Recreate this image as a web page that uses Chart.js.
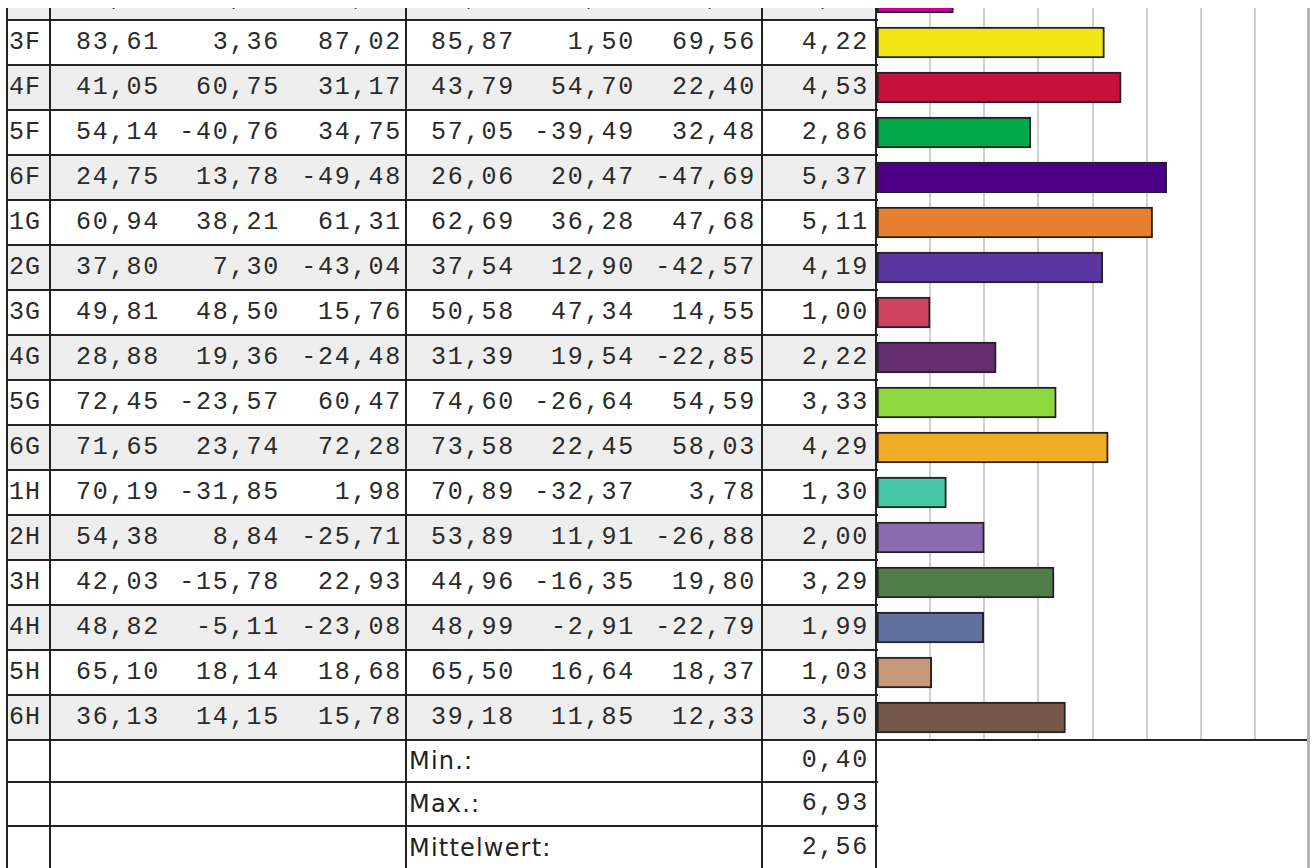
<!DOCTYPE html>
<html lang="de">
<head>
    <meta charset="UTF-8">
    <title>Farbmessung</title>
    <script src="https://cdn.jsdelivr.net/npm/chart.js"></script>
    <style>
        body {
            margin: 0;
            background: #fff;
            width: 1313px;
            height: 868px;
            overflow: hidden;
        }
        #clip {
            position: absolute;
            top: 8px;
            left: 0;
            width: 1313px;
            height: 860px;
            overflow: hidden;
        }
        #sheet {
            position: absolute;
            top: -8px;
            left: 0;
            width: 1313px;
            height: 868px;
        }
        .row { position: absolute; left: 7px; width: 869px; }
        .gray { background: #eeeeee; }
        .num {
            position: absolute;
            width: 200px;
            text-align: right;
            font-family: "Liberation Mono", monospace;
            font-size: 25px;
            letter-spacing: 1.8px;
            color: #2a2a2a;
            white-space: pre;
        }
        .lab {
            position: absolute;
            left: 9px;
            font-family: "Liberation Mono", monospace;
            font-size: 25px;
            letter-spacing: 1px;
            color: #2a2a2a;
        }
        .txt {
            position: absolute;
            left: 409px;
            font-family: "DejaVu Sans", sans-serif;
            font-size: 24px;
            letter-spacing: 1.2px;
            color: #222;
        }
        .hl, .vl { position: absolute; background: #222; z-index: 5; }
        #bars { position: absolute; left: 876px; top: -25px; z-index: 2; }
    </style>
</head>
<body>
<div id="clip"><div id="sheet">
    <canvas id="bars" width="433" height="765"></canvas>
</div></div>

<script>
    // rows, the first one is cut off at the top of the picture
    const rowLabels = ['2F', '3F', '4F', '5F', '6F', '1G', '2G', '3G', '4G', '5G', '6G', '1H', '2H', '3H', '4H', '5H', '6H'];

    // measured values (first group)
    const refL = [null, 83.61, 41.05, 54.14, 24.75, 60.94, 37.80, 49.81, 28.88, 72.45, 71.65, 70.19, 54.38, 42.03, 48.82, 65.10, 36.13];
    const refA = [null, 3.36, 60.75, -40.76, 13.78, 38.21, 7.30, 48.50, 19.36, -23.57, 23.74, -31.85, 8.84, -15.78, -5.11, 18.14, 14.15];
    const refB = [null, 87.02, 31.17, 34.75, -49.48, 61.31, -43.04, 15.76, -24.48, 60.47, 72.28, 1.98, -25.71, 22.93, -23.08, 18.68, 15.78];

    // second group
    const smpL = [null, 85.87, 43.79, 57.05, 26.06, 62.69, 37.54, 50.58, 31.39, 74.60, 73.58, 70.89, 53.89, 44.96, 48.99, 65.50, 39.18];
    const smpA = [null, 1.50, 54.70, -39.49, 20.47, 36.28, 12.90, 47.34, 19.54, -26.64, 22.45, -32.37, 11.91, -16.35, -2.91, 16.64, 11.85];
    const smpB = [null, 69.56, 22.40, 32.48, -47.69, 47.68, -42.57, 14.55, -22.85, 54.59, 58.03, 3.78, -26.88, 19.80, -22.79, 18.37, 12.33];

    // difference column, also the bar lengths
    const deltaE = [1.43, 4.22, 4.53, 2.86, 5.37, 5.11, 4.19, 1.00, 2.22, 3.33, 4.29, 1.30, 2.00, 3.29, 1.99, 1.03, 3.50];

    const barColors = ['#cc0099', '#f0e516', '#c8103c', '#00a84c', '#4b0087', '#e87f2e', '#5a36a0', '#cf4560',
        '#652d6f', '#8ed840', '#f0ac26', '#48c8a8', '#8a6ab0', '#507c4a', '#61709e', '#c9977a', '#765848'];

    const summaryLabels = ['Min.:', 'Max.:', 'Mittelwert:'];
    const summaryValues = [0.40, 6.93, 2.56];

    const sheet = document.getElementById('sheet');
    const ROW_TOP = -25, ROW_H = 45;

    function fmt(v) {
        if (v === null) return '  ,  ';
        return v.toFixed(2).replace('.', ',');
    }

    function addDiv(cls, css, text) {
        let d = document.createElement('div');
        d.className = cls;
        Object.assign(d.style, css);
        if (text !== undefined) d.textContent = text;
        sheet.appendChild(d);
        return d;
    }

    // right edges of the number columns (letter-spacing adds a bit after the last char)
    const numRight = [160, 280, 402, 515, 635, 756, 869];

    rowLabels.forEach((lab, i) => {
        let top = ROW_TOP + i * ROW_H;
        addDiv('row' + (i % 2 === 0 ? ' gray' : ''), { top: top + 'px', height: ROW_H + 'px' });
        let vals = [refL[i], refA[i], refB[i], smpL[i], smpA[i], smpB[i], deltaE[i]];
        vals.forEach((v, j) => {
            addDiv('num', { left: (numRight[j] - 200) + 'px', top: top + 'px', lineHeight: ROW_H + 'px' }, fmt(v));
        });
        addDiv('lab', { top: top + 'px', lineHeight: ROW_H + 'px' }, lab);
    });

    // summary rows under the table
    const sumTops = [740, 782, 826];
    const sumH = [42, 44, 44];
    summaryLabels.forEach((lab, i) => {
        addDiv('txt', { top: sumTops[i] + 'px', lineHeight: sumH[i] + 'px' }, lab);
        addDiv('num', { left: (numRight[6] - 200) + 'px', top: sumTops[i] + 'px', lineHeight: sumH[i] + 'px' }, fmt(summaryValues[i]));
    });

    // table rules
    for (let k = 1; k <= rowLabels.length; k++) {
        let y = ROW_TOP + k * ROW_H;
        addDiv('hl', { left: '7px', top: (y - 1) + 'px', width: (k === rowLabels.length ? 1302 : 871) + 'px', height: '2px' });
    }
    addDiv('hl', { left: '7px', top: '781px', width: '871px', height: '2px' });
    addDiv('hl', { left: '7px', top: '825px', width: '871px', height: '2px' });
    [7, 50, 406, 762, 876].forEach(x => {
        addDiv('vl', { left: (x - 1) + 'px', top: '-30px', width: '2px', height: '900px' });
    });
    addDiv('vl', { left: '1307px', top: '-30px', width: '3px', height: '900px', background: '#b4b4b4' });

    new Chart(document.getElementById('bars').getContext('2d'), {
        type: 'bar',
        data: {
            labels: rowLabels,
            datasets: [{
                data: deltaE,
                backgroundColor: barColors,
                borderColor: '#222',
                borderWidth: 2,
                borderSkipped: false,
                barThickness: 31
            }]
        },
        options: {
            indexAxis: 'y',
            responsive: false,
            animation: false,
            layout: { padding: 0 },
            plugins: { legend: { display: false }, tooltip: { enabled: false } },
            scales: {
                x: {
                    min: 0, max: 8,
                    ticks: { stepSize: 1, display: false },
                    grid: { color: '#d0d0d0', lineWidth: 2, drawTicks: false },
                    border: { display: false }
                },
                y: { display: false }
            }
        }
    });
</script>
</body>
</html>
